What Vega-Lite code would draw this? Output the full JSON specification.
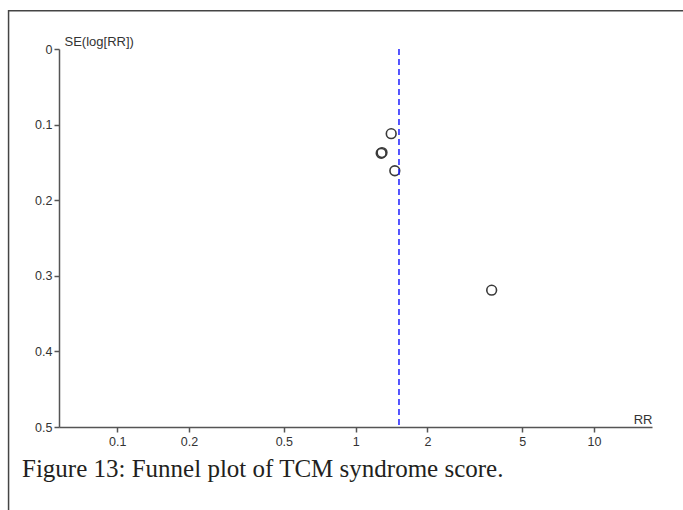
{
  "$schema": "https://vega.github.io/schema/vega-lite/v6.json",
  "width": 593,
  "height": 378,
  "autosize": {"type": "none"},
  "padding": {"left": 59, "top": 49, "right": 31, "bottom": 83},
  "background": "white",
  "config": {"view": {"stroke": null}, "font": "Liberation Sans"},
  "title": {
    "text": "Figure 13: Funnel plot of TCM syndrome score.",
    "orient": "bottom",
    "anchor": "start",
    "frame": "group",
    "dx": -37,
    "offset": -69,
    "font": "Liberation Serif",
    "fontSize": 25,
    "fontWeight": "normal",
    "color": "#231f20"
  },
  "layer": [
    {
      "data": {"values": [{}]},
      "mark": {"type": "rect", "filled": false, "stroke": "#444", "strokeWidth": 1.5, "clip": false},
      "encoding": {
        "x": {"datum": 0.03502, "type": "quantitative"},
        "x2": {"datum": 30},
        "y": {"datum": -0.0507, "type": "quantitative"},
        "y2": {"datum": 0.63}
      }
    },
    {
      "data": {
        "values": [
          {"rr": 1.41, "se": 0.112},
          {"rr": 1.28, "se": 0.138},
          {"rr": 1.29, "se": 0.137},
          {"rr": 1.46, "se": 0.161},
          {"rr": 3.72, "se": 0.319}
        ]
      },
      "mark": {"type": "point", "shape": "circle", "filled": false, "size": 95, "strokeWidth": 1.6, "color": "#3a3a3a", "opacity": 1},
      "encoding": {
        "x": {
          "field": "rr",
          "type": "quantitative",
          "scale": {"type": "log", "domain": [0.057, 17.5], "nice": false},
          "axis": {
            "title": "RR",
            "values": [0.1, 0.2, 0.5, 1, 2, 5, 10],
            "format": "~g",
            "grid": false,
            "domainColor": "#555",
            "domainWidth": 1.5,
            "tickColor": "#555",
            "tickWidth": 1.5,
            "tickSize": 5,
            "labelFont": "Liberation Sans",
            "labelFontSize": 12.5,
            "labelColor": "#333",
            "labelPadding": 3,
            "labelFlush": false,
            "titleFont": "Liberation Sans",
            "titleFontSize": 13,
            "titleFontWeight": "normal",
            "titleColor": "#333",
            "titleX": 593,
            "titleY": -4,
            "titleAlign": "right",
            "titleBaseline": "alphabetic"
          }
        },
        "y": {
          "field": "se",
          "type": "quantitative",
          "scale": {"domain": [0, 0.5], "reverse": true, "nice": false, "zero": false},
          "axis": {
            "title": "SE(log[RR])",
            "values": [0, 0.1, 0.2, 0.3, 0.4, 0.5],
            "format": "~g",
            "grid": false,
            "domainColor": "#555",
            "domainWidth": 1.5,
            "tickColor": "#555",
            "tickWidth": 1.5,
            "tickSize": 5,
            "labelFont": "Liberation Sans",
            "labelFontSize": 12.5,
            "labelColor": "#333",
            "labelPadding": 2,
            "labelFlush": false,
            "titleFont": "Liberation Sans",
            "titleFontSize": 13,
            "titleFontWeight": "normal",
            "titleColor": "#333",
            "titleAngle": 0,
            "titleX": 5,
            "titleY": -1,
            "titleAlign": "left",
            "titleBaseline": "bottom"
          }
        }
      }
    },
    {
      "data": {"values": [{"pooled": 1.52}]},
      "mark": {"type": "rule", "color": "#1f1fff", "strokeDash": [6, 4], "strokeWidth": 1.5},
      "encoding": {"x": {"field": "pooled", "type": "quantitative"}}
    }
  ]
}
